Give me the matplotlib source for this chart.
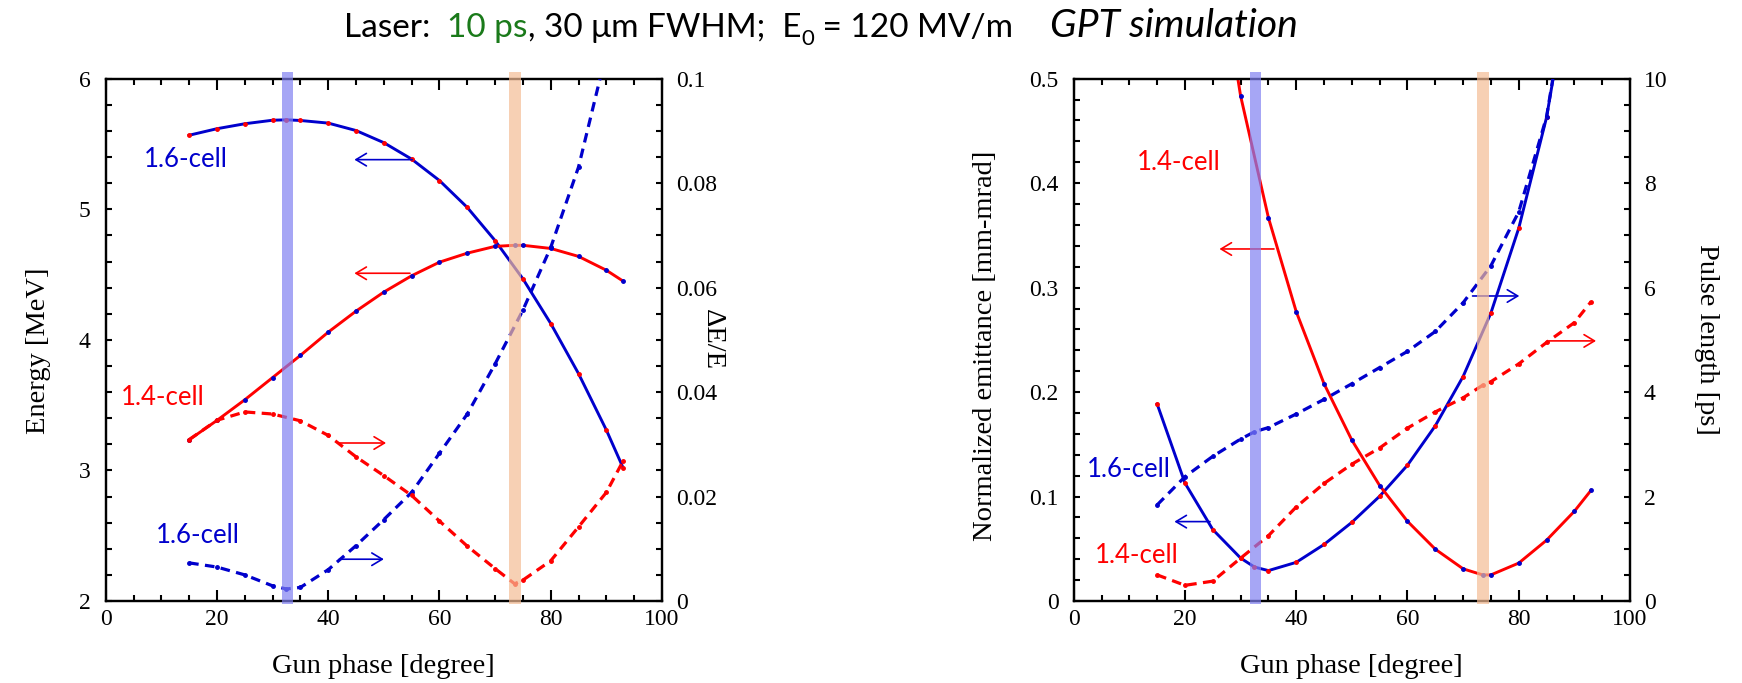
import numpy as np
import matplotlib
matplotlib.use("Agg")
import matplotlib.pyplot as plt
from matplotlib.ticker import MultipleLocator, FuncFormatter

# ---- left panel: energy / energy spread vs gun phase ----
phase_16 = [15, 20, 25, 30, 32.5, 35, 40, 45, 50, 55, 60, 65, 70, 75, 80, 85, 90, 93]
phase_14 = [15, 20, 25, 30, 35, 40, 45, 50, 55, 60, 65, 70, 73.5, 75, 80, 85, 90, 93]

energy_16 = [5.567, 5.617, 5.655, 5.682, 5.685, 5.680, 5.660, 5.603, 5.510, 5.384,
             5.220, 5.014, 4.760, 4.467, 4.125, 3.741, 3.309, 3.021]
energy_14 = [3.235, 3.383, 3.541, 3.711, 3.881, 4.059, 4.220, 4.366, 4.491, 4.595,
             4.664, 4.716, 4.724, 4.724, 4.700, 4.639, 4.533, 4.450]
spread_16 = [0.0073, 0.0065, 0.0050, 0.0029, 0.0023, 0.0026, 0.0060, 0.0106, 0.0156,
             0.0208, 0.0283, 0.0358, 0.0454, 0.0557, 0.0677, 0.0831, 0.105, np.nan]
spread_14 = [0.0309, 0.0346, 0.0362, 0.0358, 0.0345, 0.0317, 0.0276, 0.0240, 0.0202,
             0.0153, 0.0105, 0.0062, 0.0033, 0.0040, 0.0077, 0.0142, 0.0208, 0.0268]

# ---- right panel: emittance / pulse length vs gun phase ----
phase_16r = [15, 20, 25, 30, 32.5, 35, 40, 45, 50, 55, 60, 65, 70, 75, 80, 85, 90]
phase_14r = [15, 20, 25, 30, 35, 40, 45, 50, 55, 60, 65, 70, 73.5, 75, 80, 85, 90, 93]

emit_16 = [0.1886, 0.1129, 0.0684, 0.0411, 0.0325, 0.0291, 0.0370, 0.0541, 0.0753,
           0.1003, 0.1300, 0.1677, 0.2149, 0.2758, 0.3569, 0.4630, 0.62]
pulse_16 = [1.84, 2.38, 2.77, 3.10, 3.24, 3.32, 3.58, 3.86, 4.16, 4.47, 4.78, 5.16,
            5.71, 6.42, 7.45, 9.27, 12.5]
emit_14 = [np.nan, np.nan, 0.65, 0.4836, 0.367, 0.277, 0.208, 0.154, 0.1105, 0.0763,
           0.0496, 0.0308, 0.025, 0.025, 0.0363, 0.0582, 0.0859, 0.106]
pulse_14 = [0.50, 0.30, 0.38, 0.82, 1.25, 1.80, 2.25, 2.62, 2.93, 3.31, 3.62, 3.89,
            4.13, 4.20, 4.54, 4.95, 5.33, 5.73]

band_16 = (31.7, 33.7)
band_14 = (72.5, 74.6)

BLUE = "#0000cc"
RED = "#ff0000"
GREEN = "#1a7a1a"
SERIF = "Liberation Serif"
SANS = ["Lato", "DejaVu Sans"]
TICK = 17
LAB = 20.5
CELL = 18.5

plt.rcParams["font.family"] = SERIF
plt.rcParams["axes.linewidth"] = 1.6

fig = plt.figure(figsize=(17.42, 6.83), dpi=100)
W, H = 1742, 683
axL = fig.add_axes([105.7 / W, 82 / H, 556.3 / W, 522.3 / H])
axR = fig.add_axes([1073.7 / W, 82 / H, 556.3 / W, 522.3 / H])
axL2 = axL.twinx()
axR2 = axR.twinx()

fmt = FuncFormatter(lambda v, p: "%g" % round(v, 6))
dash = (0, (3, 2))
arrow = dict(arrowstyle="->,head_length=0.5,head_width=0.3", lw=1.2,
             mutation_scale=15, shrinkA=0, shrinkB=0)


def solid(ax, x, y, c, dot):
    ax.plot(x, y, color=c, lw=2.1, marker="o", ms=2.5, mfc=dot, mec=dot, zorder=3)


def dashed(ax, x, y, c):
    ax.plot(x, y, color=c, lw=2.3, ls=dash, marker="o", ms=2.5, mfc=c, mec=c, zorder=3)


def arr(ax, x0, x1, y, c):
    ax.annotate("", xy=(x1, y), xytext=(x0, y), arrowprops=dict(arrow, color=c), zorder=4)


def label(ax, x, y, s, c):
    ax.text(x, y, s, color=c, family=SANS, fontsize=CELL, ha="center", va="center")


def style(ax, ax2):
    ax.set_xlim(0, 100)
    ax.xaxis.set_major_locator(MultipleLocator(20))
    ax.xaxis.set_minor_locator(MultipleLocator(5))
    ax.tick_params(axis="x", which="both", direction="in", top=True, labelsize=TICK,
                   pad=6, width=1.5)
    ax.tick_params(axis="x", which="major", length=8)
    ax.tick_params(axis="x", which="minor", length=4)
    ax.tick_params(axis="y", which="both", direction="in", length=4.5, width=1.5,
                   labelsize=TICK, pad=11)
    ax2.tick_params(axis="y", which="both", direction="in", length=4.5, width=1.5,
                    labelsize=TICK, pad=10)
    ax.yaxis.set_major_formatter(fmt)
    ax2.yaxis.set_major_formatter(fmt)
    ax.set_xlabel("Gun phase [degree]", fontsize=LAB)
    ax.xaxis.set_label_coords(0.5, -0.102)


def band(ax2, lo, hi, c):
    ax2.axvspan(lo, hi, ymin=-0.006, ymax=1.012, color=c, alpha=0.7, lw=0,
                clip_on=False, zorder=6)


# left panel
solid(axL, phase_16, energy_16, BLUE, RED)
solid(axL, phase_14, energy_14, RED, BLUE)
dashed(axL2, phase_16, spread_16, BLUE)
dashed(axL2, phase_14, spread_14, RED)
axL.set_ylim(2, 6)
axL.yaxis.set_major_locator(MultipleLocator(1))
axL.yaxis.set_minor_locator(MultipleLocator(0.2))
axL2.set_ylim(0, 0.1)
axL2.yaxis.set_major_locator(MultipleLocator(0.02))
axL2.yaxis.set_minor_locator(MultipleLocator(0.005))
style(axL, axL2)
axL.set_ylabel("Energy [MeV]", fontsize=LAB)
axL.yaxis.set_label_coords(-0.099, 0.48)
axL2.set_ylabel("ΔE/E", fontsize=LAB, rotation=270, va="center")
axL2.yaxis.set_label_coords(1.09, 0.5)
band(axL2, *band_16, "#8080f2")
band(axL2, *band_14, "#f5bc94")

label(axL, 14.45, 5.38, "1.6-cell", BLUE)
label(axL, 10.3, 3.56, "1.4-cell", RED)
label(axL, 16.5, 2.50, "1.6-cell", BLUE)
arr(axL, 55.1, 44.7, 5.38, BLUE)
arr(axL, 54.7, 44.7, 4.51, RED)
arr(axL, 42.0, 50.4, 3.21, RED)
arr(axL, 42.0, 50.0, 2.32, BLUE)

# right panel
solid(axR, phase_16r, emit_16, BLUE, RED)
solid(axR, phase_14r, emit_14, RED, BLUE)
dashed(axR2, phase_16r, pulse_16, BLUE)
dashed(axR2, phase_14r, pulse_14, RED)
axR.set_ylim(0, 0.5)
axR.yaxis.set_major_locator(MultipleLocator(0.1))
axR.yaxis.set_minor_locator(MultipleLocator(0.02))
axR2.set_ylim(0, 10)
axR2.yaxis.set_major_locator(MultipleLocator(2))
axR2.yaxis.set_minor_locator(MultipleLocator(0.5))
style(axR, axR2)
axR.set_ylabel("Normalized emittance [mm-mrad]", fontsize=LAB)
axR.yaxis.set_label_coords(-0.136, 0.488)
axR2.set_ylabel("Pulse length [ps]", fontsize=LAB, rotation=270, va="center")
axR2.yaxis.set_label_coords(1.137, 0.5)
band(axR2, *band_16, "#8080f2")
band(axR2, *band_14, "#f5bc94")

label(axR, 18.9, 0.42, "1.4-cell", RED)
label(axR, 9.9, 0.126, "1.6-cell", BLUE)
label(axR, 11.4, 0.044, "1.4-cell", RED)
arr(axR, 36.0, 26.2, 0.337, RED)
arr(axR, 24.5, 18.1, 0.076, BLUE)
arr(axR, 71.7, 80.1, 0.292, BLUE)
arr(axR, 85.5, 93.9, 0.249, RED)

# title built piece by piece
fig.canvas.draw()
rend = fig.canvas.get_renderer()
y0 = 1 - 37 / H
x = 344 / W
pieces = [("Laser:  ", "black", 0), ("10 ps", GREEN, 0), (", 30 μm FWHM;  E", "black", 0),
          ("0", "black", 1), (" = 120 MV/m", "black", 0)]
for s, c, sub in pieces:
    if sub:
        t = fig.text(x, y0 - 8 / H, s, color=c, family=SANS, fontsize=16)
    else:
        t = fig.text(x, y0, s, color=c, family=SANS, fontsize=24)
    x = t.get_window_extent(rend).x1 / W
gpt = fig.text(1050 / W, y0, "GPT simulation", family=SANS, style="italic", fontsize=24)
gw = gpt.get_window_extent(rend).width
gpt.set_fontsize(24 * 248 / gw)

fig.savefig("out.png", dpi=100)
